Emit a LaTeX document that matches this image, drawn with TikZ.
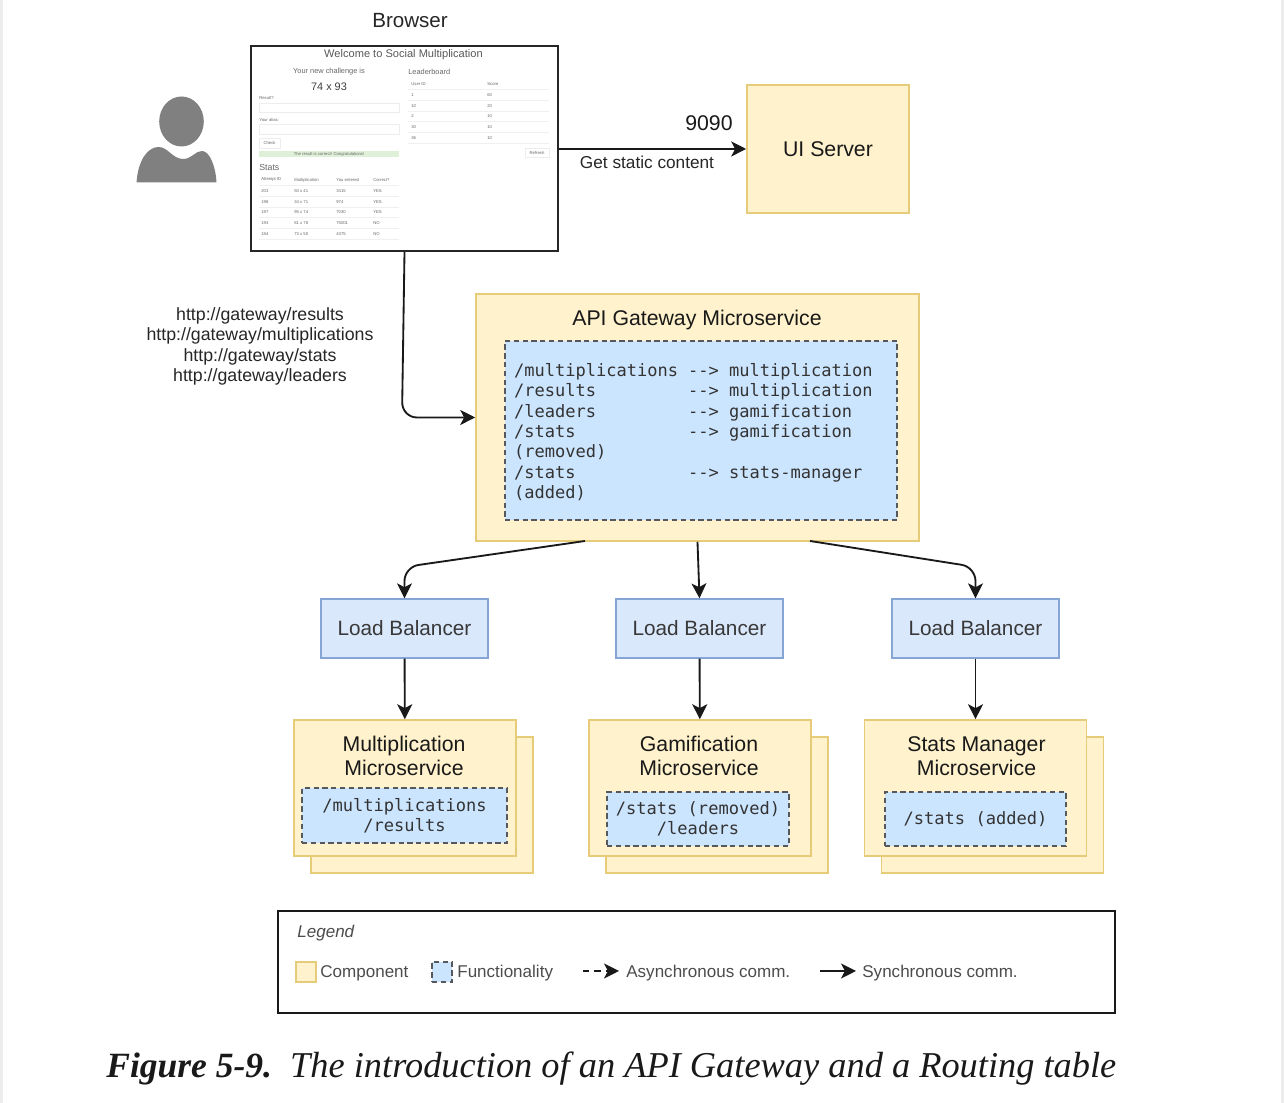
\documentclass[tikz,border=0pt]{standalone}
\usepackage{fontspec}
\setmainfont{Liberation Sans}
\setmonofont{DejaVu Sans Mono}
\newfontfamily\captionfont{Liberation Serif}
\usetikzlibrary{arrows.meta,positioning}
\definecolor{compfill}{HTML}{FFF2CC}
\definecolor{compline}{HTML}{E6CC78}
\definecolor{funcfill}{HTML}{CCE5FF}
\definecolor{funcline}{HTML}{55585D}
\definecolor{lbfill}{HTML}{DAE8FC}
\definecolor{lbline}{HTML}{85A5D5}
\definecolor{shotgreen}{HTML}{DFF0D8}
\tikzset{
    labeltext/.style={font=\fontsize{10.1}{11.6}\selectfont, text=black!85, inner sep=0pt, align=center},
    titletext/.style={font=\fontsize{12.1}{13.6}\selectfont, text=black!90, inner sep=0pt, align=center},
    component/.style={draw=compline, fill=compfill, line width=0.9pt, inner sep=0pt},
    functionality/.style={draw=funcline, fill=funcfill, dash pattern=on 3pt off 2pt, line width=0.7pt, inner sep=0pt,
        font=\fontsize{9.7}{11.6}\selectfont\ttfamily, text=black!80, align=center},
    balancer/.style={draw=lbline, fill=lbfill, line width=0.8pt, inner sep=0pt,
        minimum width=3.34cm, minimum height=1.18cm, font=\fontsize{11.8}{13.6}\selectfont, text=black!78},
    conn/.style={-{Stealth[length=8.5pt,width=8.5pt,inset=2.2pt]}, line width=1.05pt, black!90},
    shottext/.style={inner sep=0pt, text=black!60, font=\fontsize{2.4}{3}\selectfont},
    legendtext/.style={inner sep=0pt, anchor=west, text=black!70, font=\fontsize{9.7}{11}\selectfont},
}
\begin{document}
\begin{tikzpicture}
    \useasboundingbox (0,0) rectangle (25.68,22.06);
    \fill[black!7] (0,0) rectangle (0.06,22.06);
    \fill[black!7] (25.62,0) rectangle (25.68,22.06);

    % user
    \fill[black!50] (3.63,19.63) ellipse (0.446 and 0.50);
    \fill[black!50] (2.73,18.41) .. controls (2.76,18.85) and (2.95,19.12) .. (3.17,19.12)
        .. controls (3.36,19.12) and (3.45,18.88) .. (3.66,18.88)
        .. controls (3.84,18.88) and (3.90,19.04) .. (4.04,19.04)
        .. controls (4.20,19.04) and (4.32,18.70) .. (4.33,18.41) -- cycle;

    % browser with the screenshot
    \node[labeltext, font=\fontsize{11.7}{13}\selectfont] (browserlabel) at (8.2,21.64) {Browser};
    \node[draw=black!85, fill=white, line width=1.2pt, minimum width=6.14cm, minimum height=4.10cm, inner sep=0pt] (browser) at (8.09,19.09) {};
    \node[shottext, text=black!65, font=\fontsize{6.3}{7}\selectfont] (shottitle) at (8.07,20.97) {Welcome to Social Multiplication};
    \node[shottext, font=\fontsize{4.2}{5}\selectfont] (shotchallenge) at (6.58,20.62) {Your new challenge is};
    \node[shottext, text=black!75, font=\fontsize{6.2}{7}\selectfont] (shotfactors) at (6.58,20.32) {74 x 93};
    \node[shottext, font=\fontsize{4.2}{5}\selectfont, anchor=west] (shotleaders) at (8.16,20.62) {Leaderboard};
    \node[shottext, anchor=west] (shotresult) at (5.18,20.10) {Result?};
    \node[shottext, anchor=west] (shotalias) at (5.18,19.66) {Your alias:};
    \draw[black!7, line width=0.3pt] (5.18,19.82) rectangle (7.98,20.00);
    \draw[black!7, line width=0.3pt] (5.18,19.38) rectangle (7.98,19.58);
    \node[draw=black!7, line width=0.3pt, shottext, minimum width=0.42cm, minimum height=0.20cm] (shotcheck) at (5.39,19.20) {Check};
    \node[fill=shotgreen, shottext, minimum width=2.80cm, minimum height=0.12cm] (shotbar) at (6.58,18.98) {The result is correct! Congratulations!};
    \node[shottext, font=\fontsize{5}{6}\selectfont, anchor=west] (shotstats) at (5.18,18.72) {Stats};
    \node[draw=black!7, line width=0.3pt, shottext, minimum width=0.48cm, minimum height=0.18cm] (shotrefresh) at (10.74,19.00) {Refresh};

    \foreach \y/\a/\b/\c/\d in {18.46/Attempt ID/Multiplication/You entered/Correct?,
        18.24/203/50 x 41/3415/YES, 18.02/198/34 x 71/974/YES, 17.82/197/95 x 74/7030/YES,
        17.60/193/81 x 78/75001/NO, 17.38/184/73 x 50/4375/NO} {
        \node[shottext, anchor=west] at (5.22,\y) {\a};
        \node[shottext, anchor=west] at (5.88,\y) {\b};
        \node[shottext, anchor=west] at (6.72,\y) {\c};
        \node[shottext, anchor=west] at (7.46,\y) {\d};
        \draw[black!6, line width=0.3pt] (5.18,\y-0.11) -- (7.98,\y-0.11);
    }
    \foreach \y/\a/\b in {20.38/User ID/Score, 20.16/1/60, 19.94/10/20, 19.74/2/10, 19.52/30/10, 19.30/36/10} {
        \node[shottext, anchor=west] at (8.22,\y) {\a};
        \node[shottext, anchor=west] at (9.74,\y) {\b};
        \draw[black!6, line width=0.3pt] (8.16,\y-0.11) -- (10.98,\y-0.11);
    }

    % ui server
    \node[component, minimum width=3.24cm, minimum height=2.56cm, titletext] (uiserver) at (16.56,19.08) {UI Server};
    \draw[conn] (browser.east |- uiserver.west) -- (uiserver.west);
    \node[titletext] (uiport) at (14.18,19.60) {9090};
    \node[labeltext, font=\fontsize{9.8}{11.6}\selectfont] (uilabel) at (12.94,18.82) {Get static content};

    % gateway
    \node[component, minimum width=8.86cm, minimum height=4.94cm] (gateway) at (13.95,13.71) {};
    \node[titletext] (gatewaylabel) at (13.94,15.66) {API Gateway Microservice};
    \node[functionality, minimum width=7.84cm, minimum height=3.58cm, text width=7.48cm, align=left] (routes) at (14.02,13.45) {%
        \raisebox{-1.7pt}[\height][\depth]{\begin{tabular}{@{}l@{\hspace{5.6pt}}l@{\hspace{5.8pt}}l@{}}
            /multiplications & --> & multiplication\\
            /results & --> & multiplication\\
            /leaders & --> & gamification\\
            /stats & --> & gamification\\
            (removed) & & \\
            /stats & --> & stats-manager\\
            (added) & &
        \end{tabular}}};

    \node[labeltext] (urls) at (5.2,15.13) {http://gateway/results\\http://gateway/multiplications\\http://gateway/stats\\http://gateway/leaders};
    \coordinate (elbow) at (8.04,13.71);
    \draw[conn, rounded corners=0.3cm] (browser.south) -- (elbow) -- (gateway.west);

    % load balancers
    \node[balancer] (lbmulti) at (8.09,9.49) {Load Balancer};
    \node[balancer] (lbgame) at (13.99,9.49) {Load Balancer};
    \node[balancer] (lbstats) at (19.51,9.49) {Load Balancer};

    \coordinate (gwleft) at (11.70,11.24);
    \coordinate (gwright) at (16.20,11.24);
    \coordinate (bendleft) at (8.09,10.72);
    \coordinate (bendright) at (19.51,10.72);
    \draw[conn, rounded corners=0.28cm] (gwleft) -- (bendleft) -- (lbmulti.north);
    \draw[conn] (gateway.south) -- (lbgame.north);
    \draw[conn, rounded corners=0.28cm] (gwright) -- (bendright) -- (lbstats.north);

    % microservices
    \node[component, minimum width=4.44cm, minimum height=2.72cm] (multiback) at (8.44,5.96) {};
    \node[component, minimum width=4.44cm, minimum height=2.72cm] (multi) at (8.10,6.30) {};
    \node[titletext] (multilabel) at (8.08,6.94) {Multiplication\\Microservice};
    \node[functionality, minimum width=4.10cm, minimum height=1.10cm] (multifunc) at (8.09,5.75) {/multiplications\\/results};

    \node[component, minimum width=4.44cm, minimum height=2.72cm] (gameback) at (14.34,5.96) {};
    \node[component, minimum width=4.44cm, minimum height=2.72cm] (game) at (14.00,6.30) {};
    \node[titletext] (gamelabel) at (13.98,6.94) {Gamification\\Microservice};
    \node[functionality, minimum width=3.64cm, minimum height=1.08cm] (gamefunc) at (13.96,5.68) {/stats (removed)\\/leaders};

    \node[component, minimum width=4.44cm, minimum height=2.72cm] (statsback) at (19.85,5.96) {};
    \node[component, minimum width=4.44cm, minimum height=2.72cm] (stats) at (19.51,6.30) {};
    \node[titletext] (statslabel) at (19.53,6.94) {Stats Manager\\Microservice};
    \node[functionality, minimum width=3.62cm, minimum height=1.08cm] (statsfunc) at (19.51,5.68) {/stats (added)};

    \draw[conn] (lbmulti) -- (multi);
    \draw[conn] (lbgame) -- (game);
    \draw[conn] (lbstats) -- (stats);

    % legend
    \node[draw=black!90, line width=1.3pt, minimum width=16.74cm, minimum height=2.04cm, inner sep=0pt] (legend) at (13.93,2.82) {};
    \node[legendtext, font=\fontsize{9.7}{11}\selectfont\itshape] (legendlabel) at (5.94,3.40) {Legend};
    \node[component, minimum size=0.40cm] (swatchcomp) at (6.12,2.62) {};
    \node[legendtext] (labelcomp) at (6.40,2.60) {Component};
    \node[functionality, minimum size=0.40cm] (swatchfunc) at (8.84,2.62) {};
    \node[legendtext] (labelfunc) at (9.14,2.60) {Functionality};
    \coordinate (asyncstart) at (11.66,2.64);
    \coordinate (asyncend) at (12.38,2.64);
    \node[legendtext] (labelasync) at (12.52,2.60) {Asynchronous comm.};
    \draw[conn, dash pattern=on 3.5pt off 3pt] (asyncstart) -- (asyncend);
    \coordinate (syncstart) at (16.40,2.64);
    \coordinate (syncend) at (17.12,2.64);
    \node[legendtext] (labelsync) at (17.24,2.60) {Synchronous comm.};
    \draw[conn] (syncstart) -- (syncend);

    % caption
    \node[inner sep=0pt, anchor=west, font=\fontsize{20.7}{24}\selectfont\captionfont\itshape, text=black!90] (caption) at (2.12,0.68) {\textbf{\fontsize{20.2}{24}\selectfont Figure 5-9.}\hspace{0.5em}The introduction of an API Gateway and a Routing table};
\end{tikzpicture}
\end{document}
